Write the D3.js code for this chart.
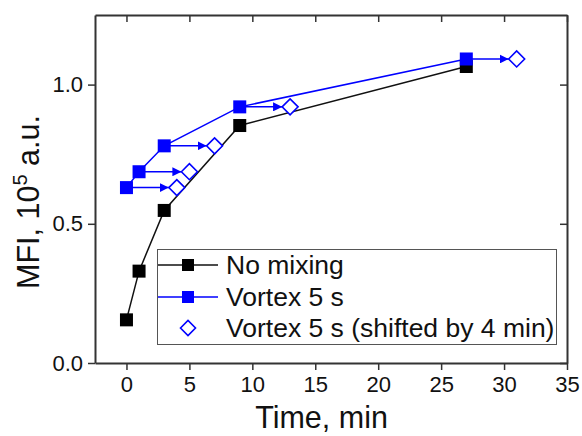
<!DOCTYPE html>
<html>
<head>
<meta charset="utf-8">
<script src="https://cdn.jsdelivr.net/npm/d3@7/dist/d3.min.js"></script>
<style>
  html, body { margin: 0; padding: 0; background: #fff; }
  svg { display: block; font-family: "Liberation Sans", Arial, sans-serif; }
</style>
</head>
<body>
<div id="chart"></div>
<script>
// ---- data ----
const timeMin = [0, 1, 3, 9, 27];
const noMixing = [0.155, 0.33, 0.548, 0.853, 1.065];
const vortex5s = [0.63, 0.687, 0.78, 0.92, 1.092];
const shiftedTime = [4, 5, 7, 13, 31];
const xTicks = [0, 5, 10, 15, 20, 25, 30, 35];
const yTicks = [0.0, 0.5, 1.0];
const legendLabels = ["No mixing", "Vortex 5 s", "Vortex 5 s (shifted by 4 min)"];

const W = 582, H = 436;
const m = { left: 95, right: 15, top: 15, bottom: 73 };

const svg = d3.select("#chart").append("svg").attr("width", W).attr("height", H);

const x = d3.scaleLinear().domain([-2.5, 35]).range([m.left, W - m.right]);
const y = d3.scaleLinear().domain([0, 1.25]).range([H - m.bottom, m.top]);

const axisColor = "#333";
const blue = "#0000ff";

// axes
const gx = svg.append("g").attr("transform", `translate(0,${H - m.bottom})`)
  .call(d3.axisBottom(x).tickValues(xTicks).tickFormat(d3.format("d")).tickSize(7).tickSizeOuter(0));
const gy = svg.append("g").attr("transform", `translate(${m.left},0)`)
  .call(d3.axisLeft(y).tickValues(yTicks).tickFormat(d3.format(".1f")).tickSize(7).tickSizeOuter(0));
const gt = svg.append("g").attr("transform", `translate(0,${m.top})`)
  .call(d3.axisBottom(x).tickValues(xTicks).tickFormat("").tickSize(7).tickSizeOuter(0));
const gr = svg.append("g").attr("transform", `translate(${W - m.right},0)`)
  .call(d3.axisLeft(y).tickValues(yTicks).tickFormat("").tickSize(7).tickSizeOuter(0));

[gx, gy, gt, gr].forEach(g => {
  g.select(".domain").attr("stroke", axisColor).attr("stroke-width", 2);
  g.selectAll(".tick line").attr("stroke", axisColor).attr("stroke-width", 1.5);
  g.selectAll(".tick text").attr("fill", "#111").style("font-size", "22px");
});
gx.selectAll(".tick text").attr("dy", "0.95em").attr("y", 8);
gy.selectAll(".tick text").attr("x", -12);

// axis titles
svg.append("text").attr("x", x(15.5)).attr("y", 428).attr("text-anchor", "middle")
  .style("font-size", "30.5px").attr("fill", "#111").text("Time, min");

const yt = svg.append("text")
  .attr("transform", `translate(39,${(H - m.bottom + m.top) / 2 + 13}) rotate(-90)`)
  .attr("text-anchor", "middle").style("font-size", "30.5px").attr("fill", "#111");
yt.append("tspan").text("MFI, 10");
yt.append("tspan").attr("dy", -12).style("font-size", "20px").text("5");
yt.append("tspan").attr("dy", 12).text(" a.u.");

// arrowhead marker
svg.append("defs").append("marker")
  .attr("id", "arrow").attr("viewBox", "0 0 10 10").attr("refX", 10).attr("refY", 5)
  .attr("markerWidth", 9).attr("markerHeight", 9).attr("markerUnits", "userSpaceOnUse")
  .attr("orient", "auto")
  .append("path").attr("d", "M0,0 L10,5 L0,10 Z").attr("fill", blue);

const line = d3.line().x(d => x(d[0])).y(d => y(d[1]));
const blackPts = timeMin.map((t, i) => [t, noMixing[i]]);
const bluePts = timeMin.map((t, i) => [t, vortex5s[i]]);
const shiftPts = shiftedTime.map((t, i) => [t, vortex5s[i]]);

// lines
svg.append("path").attr("d", line(blackPts)).attr("fill", "none").attr("stroke", "#111").attr("stroke-width", 1.5);
svg.append("path").attr("d", line(bluePts)).attr("fill", "none").attr("stroke", blue).attr("stroke-width", 1.5);

// arrows
const dHalf = 8;
svg.selectAll(".arr").data(bluePts).join("line")
  .attr("x1", d => x(d[0])).attr("y1", d => y(d[1]))
  .attr("x2", (d, i) => x(shiftPts[i][0]) - dHalf).attr("y2", d => y(d[1]))
  .attr("stroke", blue).attr("stroke-width", 1.5).attr("marker-end", "url(#arrow)");

// markers
const sq = 13;
svg.selectAll(".bsq").data(blackPts).join("rect")
  .attr("x", d => x(d[0]) - sq / 2).attr("y", d => y(d[1]) - sq / 2)
  .attr("width", sq).attr("height", sq).attr("fill", "#000");
svg.selectAll(".usq").data(bluePts).join("rect")
  .attr("x", d => x(d[0]) - sq / 2).attr("y", d => y(d[1]) - sq / 2)
  .attr("width", sq).attr("height", sq).attr("fill", blue);
const diamond = (cx, cy, r) => `M${cx - r},${cy} L${cx},${cy - r} L${cx + r},${cy} L${cx},${cy + r} Z`;
svg.selectAll(".dia").data(shiftPts).join("path")
  .attr("d", d => diamond(x(d[0]), y(d[1]), dHalf))
  .attr("fill", "#fff").attr("stroke", blue).attr("stroke-width", 1.6);

// legend
const lg = svg.append("g");
lg.append("rect").attr("x", 157.5).attr("y", 249.5).attr("width", 399).attr("height", 95)
  .attr("fill", "#fff").attr("stroke", "#555").attr("stroke-width", 1);
const rowsY = [265, 297, 328];
const lx0 = 158, lx1 = 218, lmx = 188, ltx = 226;
// row 1
lg.append("line").attr("x1", lx0).attr("x2", lx1).attr("y1", rowsY[0]).attr("y2", rowsY[0]).attr("stroke", "#111").attr("stroke-width", 1.5);
lg.append("rect").attr("x", lmx - 6).attr("y", rowsY[0] - 6).attr("width", 12).attr("height", 12).attr("fill", "#000");
// row 2
lg.append("line").attr("x1", lx0).attr("x2", lx1).attr("y1", rowsY[1]).attr("y2", rowsY[1]).attr("stroke", blue).attr("stroke-width", 1.5);
lg.append("rect").attr("x", lmx - 6).attr("y", rowsY[1] - 6).attr("width", 12).attr("height", 12).attr("fill", blue);
// row 3
lg.append("path").attr("d", diamond(lmx, rowsY[2], 7.5)).attr("fill", "#fff").attr("stroke", blue).attr("stroke-width", 1.6);
lg.selectAll(".lt").data(legendLabels).join("text")
  .attr("x", ltx).attr("y", (d, i) => rowsY[i] + 9)
  .style("font-size", "26.5px").attr("fill", "#111").text(d => d);
</script>
</body>
</html>
